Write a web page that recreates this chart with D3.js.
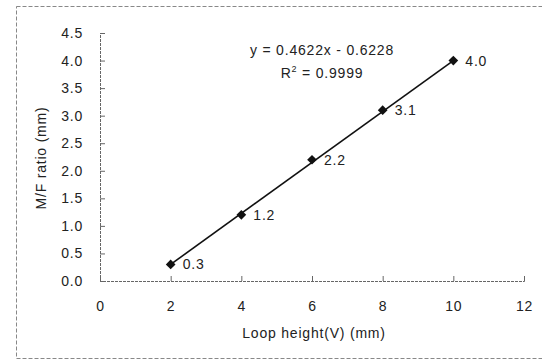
<!DOCTYPE html>
<html>
<head>
<meta charset="utf-8">
<script src="https://d3js.org/d3.v7.min.js"></script>
<style>
  body { margin: 0; background: #fff; }
  svg text { font-family: "Liberation Sans", Arial, sans-serif; fill: #222; letter-spacing: 0.8px; }
</style>
</head>
<body>
<div id="chart"></div>
<script>
// Data
const loopHeights = [2, 4, 6, 8, 10];
const mfRatios = [0.3, 1.2, 2.2, 3.1, 4.0];
const pointLabels = ['0.3', '1.2', '2.2', '3.1', '4.0'];
const xTicks = [0, 2, 4, 6, 8, 10, 12];
const yTicks = [0, 0.5, 1, 1.5, 2, 2.5, 3, 3.5, 4, 4.5];
const slope = 0.4622;
const intercept = -0.6228;

const width = 542, height = 363;
const margin = { top: 33, right: 18, bottom: 82, left: 100 };

const svg = d3.select('#chart')
  .append('svg')
  .attr('width', width)
  .attr('height', height);

// Outer frame (dashed, scanned look)
svg.append('rect')
  .attr('x', 16.5).attr('y', 6.5)
  .attr('width', 540).attr('height', 352)
  .attr('fill', 'none')
  .attr('stroke', '#888')
  .attr('stroke-width', 1)
  .attr('stroke-dasharray', '4,2');

const xScale = d3.scaleLinear().domain([0, 12]).range([margin.left, 524]);
const yScale = d3.scaleLinear().domain([0, 4.5]).range([281, margin.top]);

// Axes
const xAxis = svg.append('g')
  .attr('transform', `translate(0,${yScale(0)})`)
  .call(d3.axisBottom(xScale).tickValues(xTicks).tickSize(-5).tickPadding(20)
    .tickFormat(d3.format('d')));

const yAxis = svg.append('g')
  .attr('transform', `translate(${xScale(0)},0)`)
  .call(d3.axisLeft(yScale).tickValues(yTicks).tickSize(-5).tickPadding(17)
    .tickFormat(d3.format('.1f')));

[xAxis, yAxis].forEach(ax => {
  ax.select('.domain').attr('stroke', '#666').attr('stroke-dasharray', '3,1');
  ax.selectAll('.tick line').attr('stroke', '#666');
  ax.selectAll('.tick text').style('font-size', '14px').attr('fill', '#222');
});

// Trend line
const line = d3.line()
  .x(d => xScale(d))
  .y(d => yScale(slope * d + intercept));

svg.append('path')
  .datum([loopHeights[0], loopHeights[loopHeights.length - 1]])
  .attr('d', line)
  .attr('fill', 'none')
  .attr('stroke', '#111')
  .attr('stroke-width', 1.6);

// Diamond markers
svg.selectAll('.pt')
  .data(loopHeights)
  .enter()
  .append('path')
  .attr('class', 'pt')
  .attr('d', d3.symbol().type(d3.symbolDiamond2).size(60))
  .attr('transform', (d, i) => `translate(${xScale(d)},${yScale(mfRatios[i])})`)
  .attr('fill', '#111');

// Point labels
svg.selectAll('.plabel')
  .data(loopHeights)
  .enter()
  .append('text')
  .attr('class', 'plabel')
  .attr('x', d => xScale(d) + 12)
  .attr('y', (d, i) => yScale(mfRatios[i]) + 5)
  .style('font-size', '14px')
  .text((d, i) => pointLabels[i]);

// Equation
svg.append('text')
  .attr('x', 322).attr('y', 55)
  .attr('text-anchor', 'middle')
  .style('font-size', '14px')
  .text(`y = ${slope}x - ${Math.abs(intercept)}`);

const r2 = svg.append('text')
  .attr('x', 322).attr('y', 78)
  .attr('text-anchor', 'middle')
  .style('font-size', '14px');
r2.append('tspan').text('R');
r2.append('tspan').attr('dy', -6).style('font-size', '9px').text('2');
r2.append('tspan').attr('dy', 6).text(' = 0.9999');

// Axis titles
svg.append('text')
  .attr('x', 314).attr('y', 338)
  .attr('text-anchor', 'middle')
  .style('font-size', '14px')
  .text('Loop height(V) (mm)');

svg.append('text')
  .attr('transform', 'translate(46,158) rotate(-90)')
  .attr('text-anchor', 'middle')
  .style('font-size', '14px')
  .text('M/F ratio (mm)');
</script>
</body>
</html>
